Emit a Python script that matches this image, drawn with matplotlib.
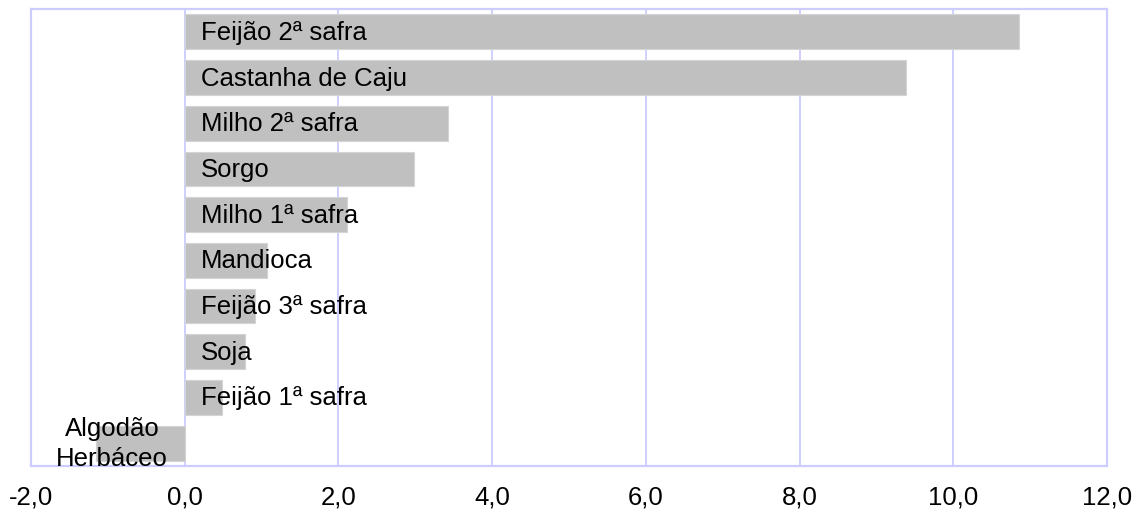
import matplotlib
matplotlib.use('Agg')
import matplotlib.pyplot as plt

# Values (top to bottom)
culturas = ['Feijão 2ª safra', 'Castanha de Caju', 'Milho 2ª safra', 'Sorgo',
            'Milho 1ª safra', 'Mandioca', 'Feijão 3ª safra', 'Soja',
            'Feijão 1ª safra', 'Algodão\nHerbáceo']
valores = [10.85, 9.38, 3.43, 2.98, 2.11, 1.07, 0.92, 0.79, 0.48, -1.16]
x_ticks = [-2, 0, 2, 4, 6, 8, 10, 12]
x_labels = ['-2,0', '0,0', '2,0', '4,0', '6,0', '8,0', '10,0', '12,0']

plt.rcParams['font.family'] = ['Liberation Sans', 'DejaVu Sans']

fig = plt.figure(figsize=(11.36, 5.10), dpi=100)
ax = fig.add_axes([0.0273, 0.0843, 0.9472, 0.8961])

grid_color = '#CCCCFF'
pos = list(range(len(culturas)))
ax.barh(pos, valores, height=0.76, color='#C0C0C0', edgecolor='#D4D4D4',
        linewidth=0.8, zorder=2)

for y, nome, v in zip(pos, culturas, valores):
    if v >= 0:
        ax.annotate(nome, (0, y), xytext=(11.5, 0), textcoords='offset points',
                    ha='left', va='center', fontsize=18.5, zorder=3)
    else:
        ax.annotate(nome, (0, y), xytext=(-12, 0), textcoords='offset points',
                    ha='right', va='center', multialignment='center',
                    fontsize=18.5, zorder=3, linespacing=1.3)

ax.set_xlim(-2, 12)
ax.set_ylim(len(culturas) - 0.5, -0.5)
ax.set_xticks(x_ticks)
ax.set_xticklabels(x_labels)
ax.tick_params(axis='x', length=0, pad=13, labelsize=18.5)
ax.set_yticks([])
ax.grid(axis='x', color=grid_color, linewidth=1.3, zorder=1)
ax.set_axisbelow(True)
for s in ax.spines.values():
    s.set_color(grid_color)
    s.set_linewidth(1.6)

plt.savefig('out.png', dpi=100)
